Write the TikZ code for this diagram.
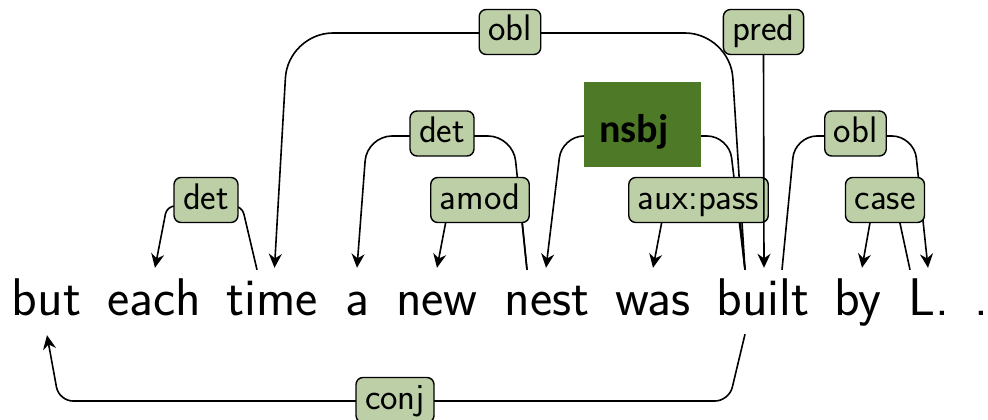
\documentclass[tikz,border=0pt]{standalone}
\usepackage{fontspec}
\newfontfamily\nsbjfont{Carlito}
\usetikzlibrary{arrows.meta}
\definecolor{lblfill}{HTML}{BDCFA6}
\definecolor{nsbjfill}{HTML}{4E7A28}
\begin{document}
\begin{tikzpicture}[x=1pt,y=-1pt,
  word/.style={anchor=base, inner sep=0pt, text height=33pt, text depth=10pt,
    font=\sffamily\fontsize{53}{60}\selectfont},
  deplabel/.style={draw=black, line width=1.4pt, fill=lblfill, rounded corners=7pt,
    inner xsep=9pt, inner ysep=6pt, text height=25.5pt, text depth=7.5pt,
    font=\sffamily\fontsize{37}{42}\selectfont},
  dep/.style={line width=1.6pt, draw=black, line join=round},
  tip/.style={-{Stealth[length=14pt,width=13pt]}},
]
\useasboundingbox (0,0) rectangle (988,420);

% sentence
\node[word] (w1)  at (46.5,315) {but};
\node[word] (w2)  at (154,315)  {each};
\node[word] (w3)  at (272,315)  {time};
\node[word] (w4)  at (357,315)  {a};
\node[word] (w5)  at (437,315)  {new};
\node[word] (w6)  at (547,315)  {nest};
\node[word] (w7)  at (653,315)  {was};
\node[word] (w8)  at (763,315)  {built};
\node[word] (w9)  at (858,315)  {by};
\node[word] (w10) at (929,315)  {L.};
\node[word] (w11) at (981,315)  {.};

% attachment points above / below the words
\coordinate (t-each)  at ([shift={(1,-14)}]w2.north);
\coordinate (t-time)  at ([shift={(2.5,-14)}]w3.north);
\coordinate (s-time)  at ([shift={(-15,-12)}]w3.north);
\coordinate (t-a)     at ([shift={(0,-14)}]w4.north);
\coordinate (t-new)   at ([shift={(0,-14)}]w5.north);
\coordinate (t-nest)  at ([shift={(-1,-14)}]w6.north);
\coordinate (s-nest)  at ([shift={(-20,-12)}]w6.north);
\coordinate (t-was)   at ([shift={(0,-14)}]w7.north);
\coordinate (t-built) at ([shift={(1,-14)}]w8.north);
\coordinate (s-built) at ([shift={(-18,-12)}]w8.north);
\coordinate (r-built) at ([shift={(19,-12)}]w8.north);
\coordinate (b-built) at ([shift={(-18,9)}]w8.south);
\coordinate (t-by)    at ([shift={(4,-14)}]w9.north);
\coordinate (t-L)     at ([shift={(-1,-14)}]w10.north);
\coordinate (s-L)     at ([shift={(-19,-12)}]w10.north);
\coordinate (b-but)   at ([shift={(0.5,10)}]w1.south);

% arcs
\draw[dep, tip, rounded corners=8pt]  (s-time)  -- (242,206) -- (167,206) -- (t-each);
\draw[dep, tip, rounded corners=45pt] (s-built) -- (730,33)  -- (288,33)  -- (t-time);
\draw[dep, tip, rounded corners=25pt] (s-nest)  -- (513,136) -- (367,136) -- (t-a);
\draw[dep, tip, rounded corners=8pt]  (s-nest)  -- (520,200) -- (450,200) -- (t-new);
\draw[dep, tip, rounded corners=22pt] (s-built) -- (729,136) -- (562,136) -- (t-nest);
\draw[dep, tip, rounded corners=8pt]  (s-built) -- (738,200) -- (666,200) -- (t-was);
\draw[dep, tip, rounded corners=22pt] (r-built) -- (795,136) -- (914,136) -- (t-L);
\draw[dep, tip, rounded corners=8pt]  (s-L)     -- (895,200) -- (874,200) -- (t-by);
\draw[dep, tip, rounded corners=14pt] (b-built) -- (729,401) -- (59,401)  -- (b-but);

% relation labels
\node[deplabel] (det1)  at (206,200)   {det};
\node[deplabel] (obl1)  at (510,32)    {obl};
\node[deplabel] (det2)  at (442,133.5) {det};
\node[deplabel] (amod)  at (480,200)   {amod};
\node[deplabel] (aux)   at (698.5,200) {aux:pass};
\node[deplabel] (pred)  at (763.5,32)  {pred};
\node[deplabel] (obl2)  at (855.5,133.5) {obl};
\node[deplabel] (case)  at (885,200)   {case};
\node[deplabel] (conj)  at (395,400)   {conj};
\node[fill=nsbjfill, minimum width=117pt, minimum height=85pt, inner sep=0pt]
  (nsbj) at (642.5,124.5) {};
\node[anchor=base, inner sep=0pt, font=\nsbjfont\bfseries\fontsize{40}{46}\selectfont]
  (nsbjtext) at (634,142) {nsbj};

% root arc
\draw[dep, tip] (pred.south) -- (t-built);
\end{tikzpicture}
\end{document}
